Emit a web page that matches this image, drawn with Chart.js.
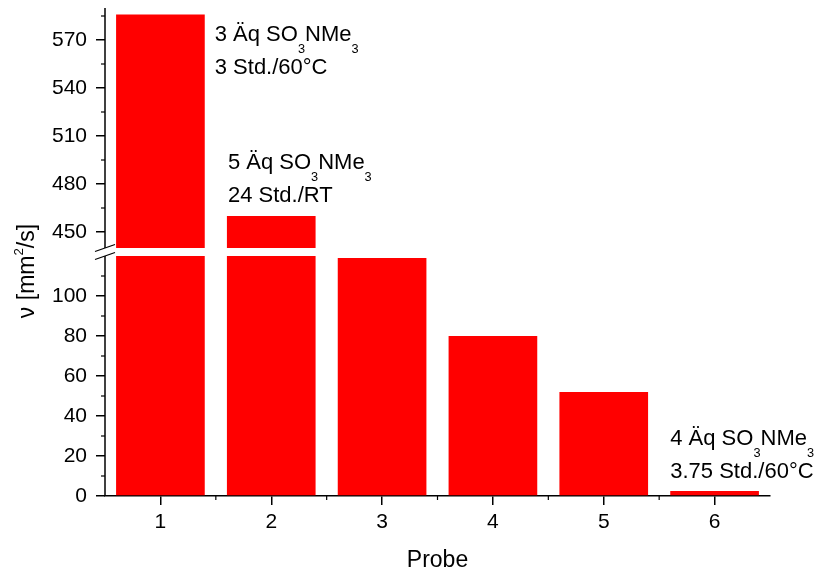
<!DOCTYPE html>
<html>
<head>
<meta charset="utf-8">
<script src="https://cdn.jsdelivr.net/npm/chart.js@4.4.1/dist/chart.umd.min.js"></script>
<style>
  html, body { margin: 0; padding: 0; background: #fff; }
  #wrap { width: 815px; height: 574px; }
</style>
</head>
<body>
<div id="wrap"><canvas id="visc-chart" width="815" height="574"></canvas></div>
<script>
const probes = ['1', '2', '3', '4', '5', '6'];
const viscosity = [586, 460, 119, 80, 52, 2.5];

// the y axis is broken into a lower and an upper range
const lowerRange = [0, 120];
const upperRange = [440, 590];
const lowerTicks = [0, 20, 40, 60, 80, 100];
const upperTicks = [450, 480, 510, 540, 570];
const lowerMinor = [10, 30, 50, 70, 90, 110];
const upperMinor = [465, 495, 525, 555, 585];

// reaction conditions written next to some of the bars ("_3" = subscript)
const noteBars = [0, 1, 5];
const noteLines = [
  ['3 Äq SO_3NMe_3', '3 Std./60°C'],
  ['5 Äq SO_3NMe_3', '24 Std./RT'],
  ['4 Äq SO_3NMe_3', '3.75 Std./60°C']
];

const FONT = "'Liberation Sans', Arial, sans-serif";
const RED = '#ff0000';
const INK = '#000000';
const SMALL = 0.58; // size of sub-/superscripts relative to the text

function richParts(str) {
  return str.split(/([_^].)/).filter(s => s.length);
}

function measureRich(ctx, str, size) {
  let w = 0;
  for (const p of richParts(str)) {
    const small = p[0] === '_' || p[0] === '^';
    ctx.font = `${small ? size * SMALL : size}px ${FONT}`;
    w += ctx.measureText(small ? p[1] : p).width;
  }
  return w;
}

function drawRich(ctx, str, x, y, size) {
  for (const p of richParts(str)) {
    let txt = p, fs = size, dy = 0;
    if (p[0] === '_') { txt = p[1]; fs = size * SMALL; dy = size * 0.55; }
    if (p[0] === '^') { txt = p[1]; fs = size * SMALL; dy = -size * 0.5; }
    ctx.font = `${fs}px ${FONT}`;
    ctx.fillText(txt, x, y + dy);
    x += ctx.measureText(txt).width;
  }
}

function line(ctx, x1, y1, x2, y2) {
  ctx.beginPath();
  ctx.moveTo(x1, y1);
  ctx.lineTo(x2, y2);
  ctx.stroke();
}

const brokenAxis = {
  id: 'brokenAxis',
  afterDraw(chart) {
    const {ctx, chartArea, scales} = chart;
    const {x, y, yTop} = scales;
    const L = chartArea.left;
    const lowTop = y.getPixelForValue(lowerRange[1]);
    const upBottom = yTop.getPixelForValue(upperRange[0]);

    ctx.save();
    ctx.strokeStyle = INK;
    ctx.lineWidth = 1.5;
    // spine pieces
    line(ctx, L, y.bottom, L, lowTop);
    line(ctx, L, upBottom, L, yTop.top);
    // break marks
    ctx.lineWidth = 1.2;
    line(ctx, L - 10, upBottom + 3.5, L + 10, upBottom - 3.5);
    line(ctx, L - 10, lowTop + 3.5, L + 10, lowTop - 3.5);
    // minor ticks
    lowerMinor.forEach(v => { const p = y.getPixelForValue(v); line(ctx, L - 4, p, L, p); });
    upperMinor.forEach(v => { const p = yTop.getPixelForValue(v); line(ctx, L - 4, p, L, p); });
    for (let i = 0; i < probes.length - 1; i++) {
      const p = x.getPixelForValue(i + 0.5);
      line(ctx, p, x.top, p, x.top + 4);
    }

    // y title, rotated
    const title = 'ν [mm^2/s]';
    const ts = 23;
    ctx.fillStyle = INK;
    ctx.textBaseline = 'alphabetic';
    ctx.textAlign = 'left';
    ctx.translate(34, 271);
    ctx.rotate(-Math.PI / 2);
    drawRich(ctx, title, -measureRich(ctx, title, ts) / 2, 0, ts);
    ctx.restore();

    // notes next to the bars
    const anchors = [['right', 10, 26.6], ['left', 1, -47], ['left', 0, -46]];
    ctx.save();
    ctx.fillStyle = INK;
    ctx.textBaseline = 'alphabetic';
    ctx.textAlign = 'left';
    noteBars.forEach((bi, k) => {
      const ds = viscosity[bi] > upperRange[0] ? 1 : 0;
      const bar = chart.getDatasetMeta(ds).data[bi];
      const [side, dx, dy] = anchors[k];
      const bx = side === 'right' ? bar.x + bar.width / 2 : bar.x - bar.width / 2;
      noteLines[k].forEach((txt, j) => drawRich(ctx, txt, bx + dx, bar.y + dy + j * 33, 22));
    });
    ctx.restore();
  }
};

const tickFont = {family: FONT, size: 21};

new Chart(document.getElementById('visc-chart'), {
  type: 'bar',
  data: {
    labels: probes,
    datasets: [
      {
        data: viscosity.map(v => Math.min(v, lowerRange[1])),
        yAxisID: 'y',
        backgroundColor: RED,
        grouped: false,
        barPercentage: 1,
        categoryPercentage: 0.8
      },
      {
        data: viscosity.map(v => (v > upperRange[0] ? v : null)),
        yAxisID: 'yTop',
        base: upperRange[0],
        backgroundColor: RED,
        grouped: false,
        barPercentage: 1,
        categoryPercentage: 0.8
      }
    ]
  },
  options: {
    responsive: false,
    animation: false,
    layout: {padding: {top: 8, right: 45, bottom: 0, left: 0}},
    plugins: {legend: {display: false}, tooltip: {enabled: false}},
    scales: {
      x: {
        type: 'category',
        offset: true,
        grid: {offset: false, drawOnChartArea: false, tickLength: 9, color: INK, lineWidth: 1.5},
        border: {color: INK, width: 1.5},
        ticks: {font: tickFont, color: INK, padding: 5},
        title: {display: true, text: 'Probe', font: {family: FONT, size: 23}, color: INK, padding: 0},
        afterFit(s) { s.height = 78; s.paddingLeft = 0; s.paddingRight = 0; }
      },
      y: {
        type: 'linear',
        position: 'left',
        stack: 'v',
        stackWeight: 240,
        min: lowerRange[0],
        max: lowerRange[1],
        border: {display: false},
        grid: {drawOnChartArea: false, tickLength: 9, color: INK, lineWidth: 1.5},
        ticks: {font: tickFont, color: INK, padding: 9, autoSkip: false},
        afterBuildTicks(s) { s.ticks = lowerTicks.map(v => ({value: v})); },
        afterFit(s) { s.width = 105; s.paddingTop = 0; s.paddingBottom = 0; }
      },
      yTop: {
        type: 'linear',
        position: 'left',
        stack: 'v',
        stackWeight: 248,
        min: 435,
        max: upperRange[1],
        border: {display: false},
        grid: {drawOnChartArea: false, tickLength: 9, color: INK, lineWidth: 1.5},
        ticks: {font: tickFont, color: INK, padding: 9, autoSkip: false},
        afterBuildTicks(s) { s.ticks = upperTicks.map(v => ({value: v})); },
        afterFit(s) { s.width = 105; s.paddingTop = 0; s.paddingBottom = 0; }
      }
    }
  },
  plugins: [brokenAxis]
});
</script>
</body>
</html>
